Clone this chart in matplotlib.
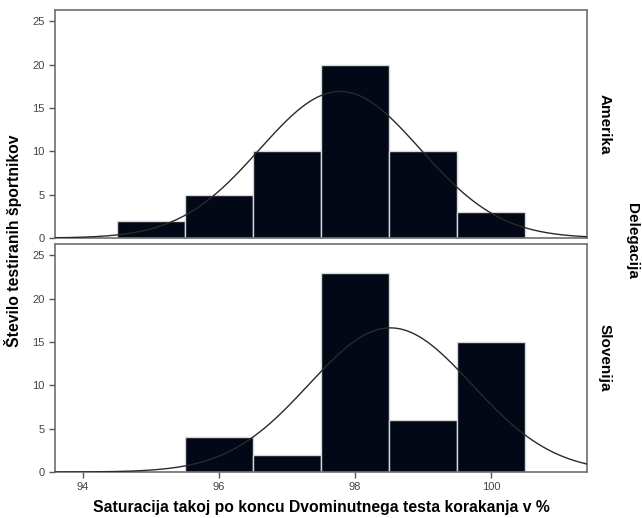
import numpy as np
import matplotlib
matplotlib.use('Agg')
import matplotlib.pyplot as plt

plt.rcParams['font.family'] = ['Liberation Sans', 'DejaVu Sans']

# podatki (razredi po 1 %)
robovi_levo = [94.5, 95.5, 96.5, 97.5, 98.5, 99.5]
amerika     = [2, 5, 10, 20, 10, 3]
slovenija   = [0, 4, 2, 23, 6, 15]

# parametri normalne krivulje (ocenjeno s slike)
am_mu, am_sd, am_n = 97.78, 1.18, 50
sl_mu, sl_sd, sl_n = 98.52, 1.20, 50

SKUPINE = [
    ('Amerika', amerika, am_mu, am_sd, am_n),
    ('Slovenija', slovenija, sl_mu, sl_sd, sl_n),
]

fig = plt.figure(figsize=(6.42, 5.18), dpi=100)
polozaji = [[0.0857, 0.5405, 0.8286, 0.4402],
            [0.0857, 0.0888, 0.8286, 0.4402]]

barva_okvir = '#6e6e6e'
x = np.linspace(93.5, 101.5, 400)

for i, (ime, vrednosti, mu, sd, n) in enumerate(SKUPINE):
    ax = fig.add_axes(polozaji[i])
    ax.bar(robovi_levo, vrednosti, width=1.0, align='edge',
           color='#020816', edgecolor='#d8d8d8', linewidth=1.0, zorder=2)
    y = n / (sd * np.sqrt(2 * np.pi)) * np.exp(-0.5 * ((x - mu) / sd) ** 2)
    ax.plot(x, y, color='#2a2a2a', linewidth=1.0, zorder=3)

    ax.set_xlim(93.59, 101.41)
    ax.set_ylim(0, 26.3)
    ax.set_yticks([0, 5, 10, 15, 20, 25])
    ax.set_xticks([94, 96, 98, 100])
    for s in ax.spines.values():
        s.set_color(barva_okvir)
        s.set_linewidth(1.2)
    ax.tick_params(axis='both', colors='#555555', labelsize=8,
                   length=4, width=1, direction='out', labelcolor='#444444')
    if i == 0:
        ax.tick_params(axis='x', bottom=False, labelbottom=False)
    ax.text(1.02, 0.5, ime, transform=ax.transAxes, rotation=-90,
            ha='left', va='center', fontsize=11, fontweight='bold')

fig.text(0.984, 0.535, 'Delegacija', rotation=-90, ha='center', va='center',
         fontsize=11, fontweight='bold')
fig.text(0.02, 0.535, 'Število testiranih športnikov', rotation=90,
         ha='center', va='center', fontsize=11.3, fontweight='bold')
fig.text(0.5, 0.02, 'Saturacija takoj po koncu Dvominutnega testa korakanja v %',
         ha='center', va='center', fontsize=11.3, fontweight='bold')

fig.savefig('out.png', dpi=100)
